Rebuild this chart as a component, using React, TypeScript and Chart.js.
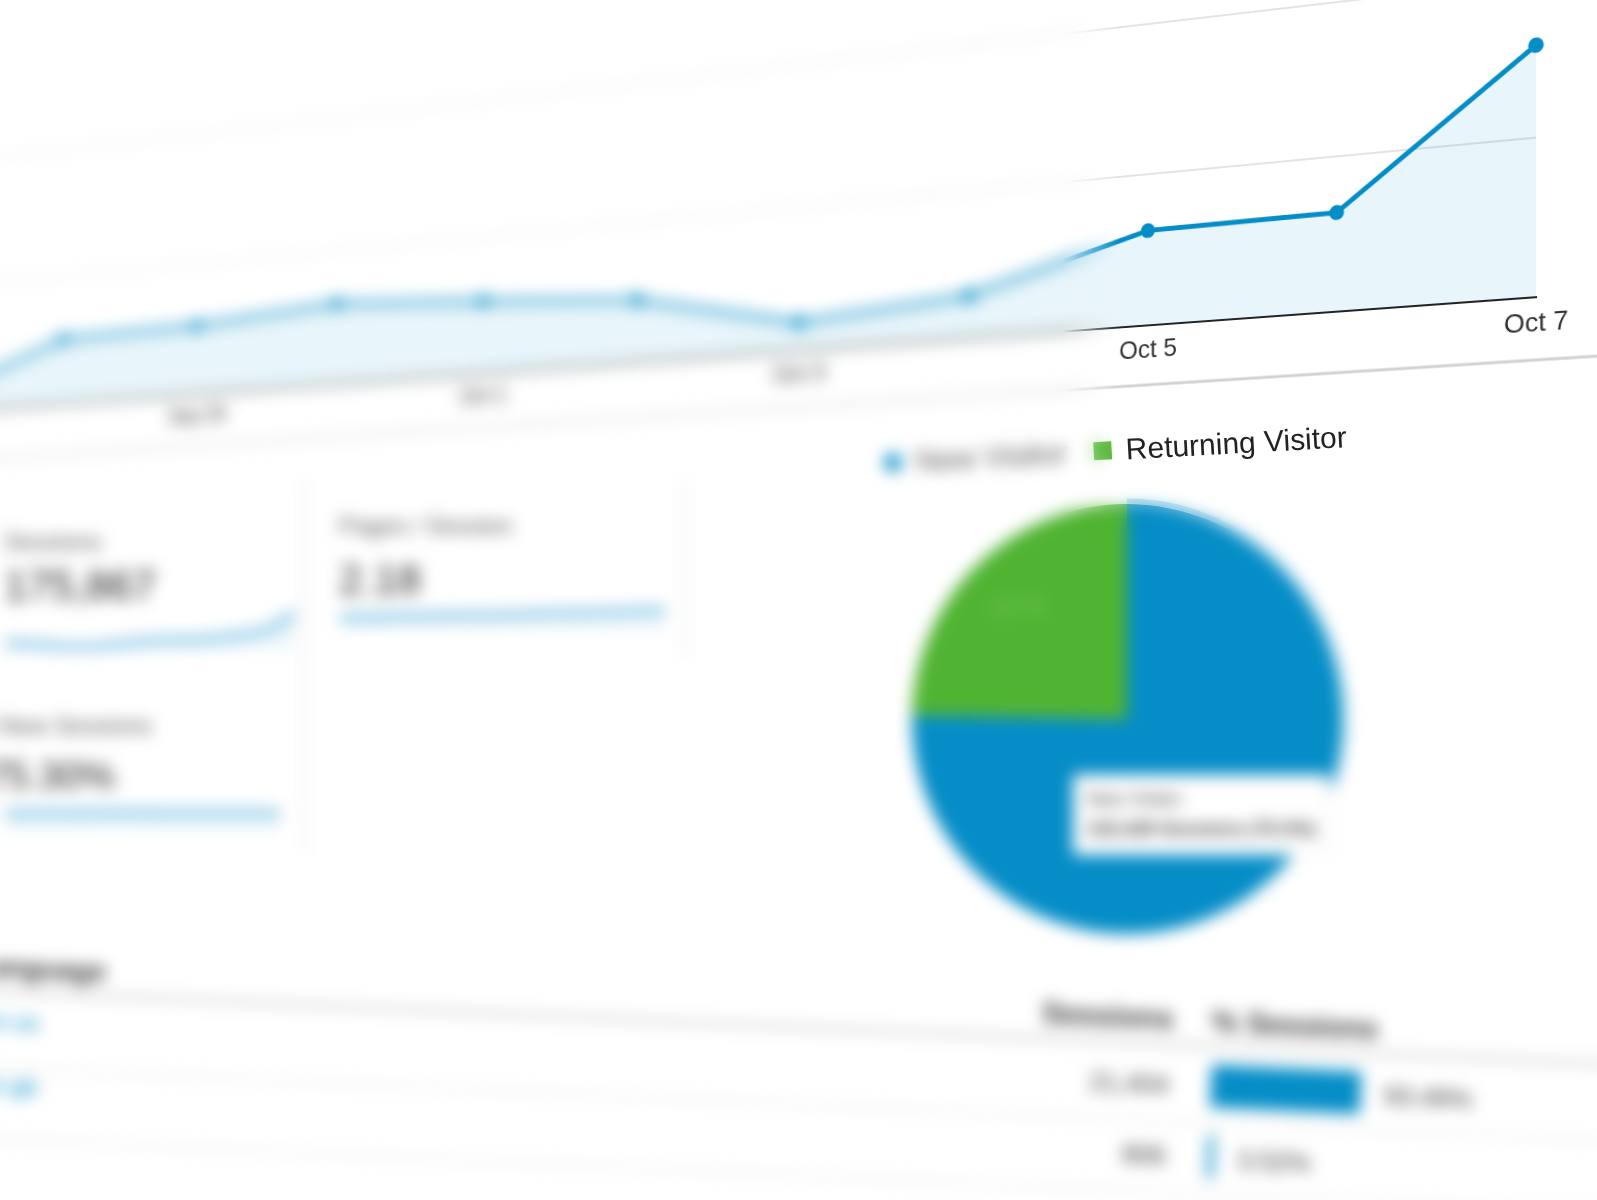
import React, { useEffect, useRef } from 'react';
import { Chart, registerables, Tooltip } from 'chart.js';

Chart.register(...registerables);

const FONT = 'Arial, "Liberation Sans", Helvetica, sans-serif';

// ---------- data ----------
const days = ['Sep 27', 'Sep 28', 'Sep 29', 'Sep 30', 'Oct 1', 'Oct 2', 'Oct 3', 'Oct 4', 'Oct 5', 'Oct 6', 'Oct 7'];
const sessions = [60, 255, 264, 303, 266, 224, 98, 145, 314, 320, 792];
const yMax = 1000;
const yStep = 500;

const pieLabels = ['New Visitor', 'Returning Visitor'];
const pieShares = [75.3, 24.7];
const pieColors = ['#058dc7', '#50b432'];
const pieSessions = ['132,428', '43,439'];

const metricLabels = ['Sessions', 'Pages / Session', '% New Sessions'];
const metricValues = ['175,867', '2.18', '75.30%'];
const sparkLabels = ['1', '2', '3', '4', '5', '6', '7', '8', '9', '10', '11', '12'];
const sparkSessions = [7, 6, 4, 3, 5, 8, 10, 10, 12, 15, 21, 37];
const sparkPages = [13, 13, 14, 14, 15, 15, 16, 17, 17, 18, 19, 20];
const sparkNew = [17, 17, 17, 17, 17.5, 17.5, 17, 17, 17, 17, 17, 17];

const tableHeaders = ['Language', 'Sessions', '% Sessions'];
const tableRows = ['en-us', 'en-gb'];
const tableSessions = ['21,404', '806'];
const tableShares = [93.49, 3.52];

// ---------- perspective of the main chart plane (screen anchors) ----------
const PLANE_DST: [number, number][] = [
  [63, 404],
  [63, 277],
  [1536, 297],
  [1536, 138],
];

function solveHomography(src: number[][], dst: number[][]) {
  const A: number[][] = [];
  const B: number[] = [];
  for (let k = 0; k < 4; k++) {
    const [x, y] = src[k];
    const [X, Y] = dst[k];
    A.push([x, y, 1, 0, 0, 0, -x * X, -y * X]);
    B.push(X);
    A.push([0, 0, 0, x, y, 1, -x * Y, -y * Y]);
    B.push(Y);
  }
  const n = 8;
  for (let i = 0; i < n; i++) {
    let p = i;
    for (let r = i + 1; r < n; r++) if (Math.abs(A[r][i]) > Math.abs(A[p][i])) p = r;
    [A[i], A[p]] = [A[p], A[i]];
    [B[i], B[p]] = [B[p], B[i]];
    for (let r = i + 1; r < n; r++) {
      const f = A[r][i] / A[i][i];
      for (let c = i; c < n; c++) A[r][c] -= f * A[i][c];
      B[r] -= f * B[i];
    }
  }
  const h = new Array(n).fill(0);
  for (let i = n - 1; i >= 0; i--) {
    let s = B[i];
    for (let c = i + 1; c < n; c++) s -= A[i][c] * h[c];
    h[i] = s / A[i][i];
  }
  return h;
}

const separatorPlugin = {
  id: 'panelSeparator',
  afterDraw(chart: any) {
    const { ctx, width, height } = chart;
    ctx.save();
    ctx.strokeStyle = '#d2d2d2';
    ctx.lineWidth = 3;
    ctx.beginPath();
    ctx.moveTo(0, height - 2);
    ctx.lineTo(width, height - 2);
    ctx.stroke();
    ctx.restore();
  },
};

function SessionsLine() {
  const ref = useRef<HTMLCanvasElement>(null);
  useEffect(() => {
    const canvas = ref.current as HTMLCanvasElement;
    const chart = new Chart(canvas, {
      type: 'line',
      data: {
        labels: days,
        datasets: [
          {
            data: sessions,
            borderColor: '#058dc7',
            borderWidth: 5,
            backgroundColor: 'rgba(5,141,199,0.09)',
            fill: 'origin',
            pointRadius: 7.5,
            pointBackgroundColor: '#058dc7',
            pointBorderColor: '#058dc7',
            pointBorderWidth: 0,
            tension: 0,
            clip: false,
          } as any,
        ],
      },
      options: {
        responsive: false,
        animation: false,
        events: [],
        layout: { padding: { left: 20, right: 90, top: 20, bottom: 12 } },
        plugins: { legend: { display: false }, tooltip: { enabled: false } },
        scales: {
          x: {
            grid: { display: false, drawTicks: false },
            border: { display: true, color: '#222', width: 2 },
            ticks: {
              autoSkip: false,
              maxRotation: 0,
              padding: 10,
              color: '#333',
              font: { family: FONT, size: 26 },
              callback: (_v: any, i: number) => (i % 2 === 0 ? days[i] : ''),
            },
          },
          y: {
            min: 0,
            max: yMax,
            grid: { color: '#e3e3e3', lineWidth: 2, drawTicks: false },
            border: { display: false },
            ticks: { display: false, stepSize: yStep },
          },
        },
      } as any,
      plugins: [separatorPlugin],
    });
    const xs: any = chart.scales.x;
    const ys: any = chart.scales.y;
    const src = [
      [xs.getPixelForValue(1), ys.getPixelForValue(0)],
      [xs.getPixelForValue(1), ys.getPixelForValue(yStep)],
      [xs.getPixelForValue(10), ys.getPixelForValue(0)],
      [xs.getPixelForValue(10), ys.getPixelForValue(yStep)],
    ];
    const [a, b, c, d, e, f, g, h] = solveHomography(src, PLANE_DST);
    canvas.style.transformOrigin = '0 0';
    canvas.style.transform = `matrix3d(${a},${d},0,${g},${b},${e},0,${h},0,0,1,0,${c},${f},0,1)`;
    return () => chart.destroy();
  }, []);
  return (
    <canvas
      ref={ref}
      width={2110}
      height={392}
      style={{ position: 'absolute', left: 0, top: 0, transformOrigin: '0 0' }}
    />
  );
}

// ---------- pie ----------
(Tooltip as any).positioners.pieFixed = function (_items: any, pos: any) {
  return pos;
};

const sliceLabelPlugin = {
  id: 'sliceLabels',
  afterDatasetsDraw(chart: any) {
    const ctx = chart.ctx;
    const meta = chart.getDatasetMeta(0);
    meta.data.forEach((arc: any, i: number) => {
      const p = arc.getProps(['x', 'y', 'startAngle', 'endAngle', 'outerRadius'], true);
      const mid = (p.startAngle + p.endAngle) / 2;
      const rr = p.outerRadius * 0.72;
      ctx.save();
      ctx.fillStyle = 'rgba(255,255,255,0.32)';
      ctx.font = `18px ${FONT}`;
      ctx.textAlign = 'center';
      ctx.textBaseline = 'middle';
      ctx.fillText(`${pieShares[i]}%`, p.x + Math.cos(mid) * rr, p.y + Math.sin(mid) * rr);
      ctx.restore();
    });
  },
};

const pieHaloPlugin = {
  id: 'pieHalo',
  afterDatasetsDraw(chart: any) {
    const ctx = chart.ctx;
    const arc: any = chart.getDatasetMeta(0).data[0];
    if (!arc) return;
    const p = arc.getProps(['x', 'y', 'startAngle', 'outerRadius'], true);
    ctx.save();
    ctx.strokeStyle = 'rgba(5,141,199,0.28)';
    ctx.lineWidth = 5;
    ctx.beginPath();
    ctx.arc(p.x, p.y, p.outerRadius + 3, p.startAngle, p.startAngle + Math.PI * 0.6);
    ctx.stroke();
    ctx.restore();
  },
};

function VisitorPie() {
  const ref = useRef<HTMLCanvasElement>(null);
  useEffect(() => {
    const chart: any = new Chart(ref.current as HTMLCanvasElement, {
      type: 'pie',
      data: {
        labels: pieLabels,
        datasets: [{ data: pieShares, backgroundColor: pieColors, borderWidth: 0, hoverOffset: 0 } as any],
      },
      options: {
        responsive: false,
        animation: false,
        events: [],
        layout: { padding: 9 },
        plugins: {
          legend: { display: false },
          tooltip: {
            enabled: true,
            position: 'pieFixed',
            xAlign: 'left',
            yAlign: 'top',
            caretSize: 0,
            caretPadding: 0,
            cornerRadius: 2,
            backgroundColor: '#ffffff',
            titleColor: '#333',
            bodyColor: '#333',
            displayColors: false,
            borderColor: '#e2e2e2',
            borderWidth: 1,
            padding: 13,
            titleMarginBottom: 8,
            titleFont: { family: FONT, size: 19, weight: 'normal' },
            bodyFont: { family: FONT, size: 19, weight: 'bold' },
            callbacks: {
              title: (items: any[]) => pieLabels[items[0].dataIndex],
              label: (item: any) => `${pieSessions[item.dataIndex]} Sessions (${pieShares[item.dataIndex]}%)`,
            },
          },
        },
      } as any,
      plugins: [sliceLabelPlugin, pieHaloPlugin],
    });
    const area = chart.chartArea;
    const cx = (area.left + area.right) / 2;
    const cy = (area.top + area.bottom) / 2;
    const r = (area.right - area.left) / 2;
    chart.tooltip.setActiveElements([{ datasetIndex: 0, index: 0 }], { x: cx - 0.24 * r, y: cy + 0.26 * r });
    chart.update();
    return () => chart.destroy();
  }, []);
  return <canvas ref={ref} width={448} height={448} style={{ position: 'absolute', left: 903, top: 495 }} />;
}

function VisitorLegend() {
  return (
    <div
      style={{
        position: 'absolute',
        left: 884,
        top: 445,
        display: 'flex',
        alignItems: 'center',
        transformOrigin: '0 50%',
        transform: 'rotate(-3.2deg)',
        whiteSpace: 'nowrap',
        fontFamily: FONT,
        fontSize: 30,
        lineHeight: '36px',
      }}
    >
      {pieLabels.map((lab, i) => (
        <div key={lab} style={{ display: 'flex', alignItems: 'center', marginRight: 27 }}>
          <span
            style={{
              display: 'inline-block',
              width: 18,
              height: 18,
              borderRadius: i === 0 ? '50%' : 0,
              background: pieColors[i],
              marginRight: 14,
            }}
          />
          <span style={{ color: i === 0 ? '#555' : '#222' }}>{lab}</span>
        </div>
      ))}
    </div>
  );
}

// ---------- sparklines / metric cards ----------
function Spark(props: { data: number[]; left: number; top: number; width: number; height: number; max: number }) {
  const ref = useRef<HTMLCanvasElement>(null);
  useEffect(() => {
    const chart = new Chart(ref.current as HTMLCanvasElement, {
      type: 'line',
      data: {
        labels: sparkLabels,
        datasets: [
          {
            data: props.data,
            borderColor: '#7cc0e4',
            borderWidth: 7,
            backgroundColor: 'rgba(5,141,199,0.07)',
            fill: 'origin',
            pointRadius: 0,
            tension: 0.3,
          } as any,
        ],
      },
      options: {
        responsive: false,
        animation: false,
        events: [],
        layout: { padding: 5 },
        plugins: { legend: { display: false }, tooltip: { enabled: false } },
        scales: { x: { display: false }, y: { display: false, min: 0, max: props.max } },
      } as any,
    });
    return () => chart.destroy();
  }, []);
  return (
    <canvas
      ref={ref}
      width={props.width}
      height={props.height}
      style={{ position: 'absolute', left: props.left, top: props.top }}
    />
  );
}

const textBase: React.CSSProperties = { position: 'absolute', fontFamily: FONT, lineHeight: 1, whiteSpace: 'nowrap' };

function MetricCards() {
  return (
    <>
      <div style={{ ...textBase, left: 4, top: 530, fontSize: 24, color: '#555' }}>{metricLabels[0]}</div>
      <div style={{ ...textBase, left: 4, top: 565, fontSize: 42, color: '#222' }}>{metricValues[0]}</div>
      <Spark data={sparkSessions} left={0} top={595} width={300} height={60} max={50} />

      <div style={{ ...textBase, left: 339, top: 514, fontSize: 24, color: '#555' }}>{metricLabels[1]}</div>
      <div style={{ ...textBase, left: 339, top: 559, fontSize: 42, color: '#222' }}>{metricValues[1]}</div>
      <Spark data={sparkPages} left={335} top={585} width={335} height={50} max={40} />

      <div style={{ ...textBase, left: -28, top: 714, fontSize: 24, color: '#555' }}>{metricLabels[2]}</div>
      <div style={{ ...textBase, left: -14, top: 757, fontSize: 38, color: '#222' }}>{metricValues[2]}</div>
      <Spark data={sparkNew} left={0} top={790} width={285} height={45} max={35} />

      <div style={{ position: 'absolute', left: 303, top: 480, width: 3, height: 370, background: '#ececec' }} />
      <div style={{ position: 'absolute', left: 683, top: 480, width: 3, height: 180, background: '#ececec' }} />
    </>
  );
}

// ---------- table with share bars ----------
const shareLabelPlugin = {
  id: 'shareLabels',
  afterDatasetsDraw(chart: any) {
    const ctx = chart.ctx;
    const meta = chart.getDatasetMeta(0);
    meta.data.forEach((bar: any, i: number) => {
      ctx.save();
      ctx.fillStyle = '#333';
      ctx.font = `26px ${FONT}`;
      ctx.textAlign = 'left';
      ctx.textBaseline = 'middle';
      ctx.fillText(`${tableShares[i].toFixed(2)}%`, bar.x + 24, bar.y + 3);
      ctx.restore();
    });
  },
};

function ShareBars() {
  const ref = useRef<HTMLCanvasElement>(null);
  useEffect(() => {
    const chart = new Chart(ref.current as HTMLCanvasElement, {
      type: 'bar',
      data: {
        labels: tableRows,
        datasets: [{ data: tableShares, backgroundColor: '#058dc7', barThickness: 42, borderWidth: 0 } as any],
      },
      options: {
        indexAxis: 'y',
        responsive: false,
        animation: false,
        events: [],
        layout: { padding: { left: 0, right: 170, top: 0, bottom: 0 } },
        plugins: { legend: { display: false }, tooltip: { enabled: false } },
        scales: { x: { display: false, min: 0, max: 100 }, y: { display: false } },
      } as any,
      plugins: [shareLabelPlugin],
    });
    return () => chart.destroy();
  }, []);
  return <canvas ref={ref} width={330} height={142} style={{ position: 'absolute', left: 1211, top: 1050 }} />;
}

function SessionsTable() {
  const line = (top: number, h: number, color: string) => (
    <div style={{ position: 'absolute', left: -300, width: 2300, top, height: h, background: color }} />
  );
  return (
    <div
      style={{
        position: 'absolute',
        left: 0,
        top: 0,
        width: 1597,
        height: 1200,
        transformOrigin: '1200px 1080px',
        transform: 'rotate(2.6deg)',
      }}
    >
      {line(1043, 5, '#d6d6d6')}
      {line(1121, 3, '#ebebeb')}
      {line(1192, 3, '#ebebeb')}
      <div style={{ ...textBase, left: -30, top: 1008, fontSize: 28, fontWeight: 'bold', color: '#333' }}>
        {tableHeaders[0]}
      </div>
      <div style={{ ...textBase, left: 971, width: 200, textAlign: 'right', top: 1005, fontSize: 30, fontWeight: 'bold', color: '#333' }}>
        {tableHeaders[1]}
      </div>
      <div style={{ ...textBase, left: 1209, top: 1006, fontSize: 30, fontWeight: 'bold', color: '#333' }}>
        {tableHeaders[2]}
      </div>
      {tableRows.map((row, i) => (
        <div key={row} style={{ ...textBase, left: -22, top: 1064 + i * 64, fontSize: 24, color: '#058dc7' }}>
          {row}
        </div>
      ))}
      {tableSessions.map((s, i) => (
        <div
          key={s}
          style={{ ...textBase, left: 969, width: 200, textAlign: 'right', top: 1073 + i * 71, fontSize: 26, color: '#333' }}
        >
          {s}
        </div>
      ))}
      <ShareBars />
    </div>
  );
}

function Dashboard() {
  return (
    <div style={{ position: 'absolute', left: 0, top: 0, width: 1597, height: 1200 }}>
      <SessionsLine />
      <MetricCards />
      <VisitorPie />
      <VisitorLegend />
      <SessionsTable />
    </div>
  );
}

export default function App() {
  const sharpX = 'linear-gradient(to right, transparent 1062px, #000 1118px)';
  const sharpY = 'linear-gradient(to bottom, #000 470px, transparent 535px)';
  return (
    <div
      style={{
        position: 'fixed',
        left: 0,
        top: 0,
        width: 1597,
        height: 1200,
        overflow: 'hidden',
        background: '#fff',
        fontFamily: FONT,
      }}
    >
      <div style={{ position: 'absolute', inset: 0, filter: 'blur(8px)' }}>
        <Dashboard />
      </div>
      <div style={{ position: 'absolute', inset: 0, WebkitMaskImage: sharpX, maskImage: sharpX } as any}>
        <div
          style={{ position: 'absolute', inset: 0, background: '#fff', WebkitMaskImage: sharpY, maskImage: sharpY } as any}
        >
          <Dashboard />
        </div>
      </div>
    </div>
  );
}
